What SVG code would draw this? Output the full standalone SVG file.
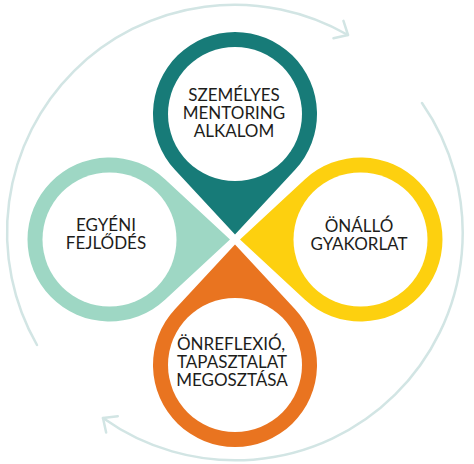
<svg xmlns="http://www.w3.org/2000/svg" width="474" height="464" viewBox="0 0 474 464">
<style>
.cyc{fill:none;stroke:#d2e5e4;stroke-width:2.5;stroke-linecap:round}
.hole{fill:#ffffff}
.lbl{font-family:Lato,"Open Sans","Liberation Sans",sans-serif;font-size:17px;fill:#1d1d1b;text-anchor:middle}
</style>
<defs>
<marker id="chev" markerUnits="userSpaceOnUse" viewBox="-14 -12 16 24" markerWidth="16" markerHeight="24" refX="0" refY="0" orient="auto" overflow="visible">
<path d="M -11 -10 L 0 0 L -11 10" fill="none" stroke="#d2e5e4" stroke-width="2.5" stroke-linecap="round" stroke-linejoin="round"/>
</marker>
</defs>
<rect width="474" height="464" fill="#ffffff"/>
<g id="connectors">
<path class="cyc" d="M 37 345 A 227.5 227.5 0 0 1 348 35" marker-end="url(#chev)"/>
<path class="cyc" d="M 422 103 A 227.5 227.5 0 0 1 103 418" marker-end="url(#chev)"/>
</g>
<g id="node-top">
<path d="M 235 234.5 L 295.08 169.8 A 82 82 0 1 0 174.92 169.8 Z" fill="#177b78"/>
<circle class="hole" cx="235" cy="114" r="67"/>
<text class="lbl" x="234" y="101">SZEMÉLYES</text>
<text class="lbl" x="234" y="119">MENTORING</text>
<text class="lbl" x="234" y="137">ALKALOM</text>
</g>
<g id="node-right">
<path d="M 240 239.5 L 304.7 299.58 A 82 82 0 1 0 304.7 179.42 Z" fill="#fdd00f"/>
<circle class="hole" cx="360.5" cy="239.5" r="67"/>
<text class="lbl" x="359" y="232">ÖNÁLLÓ</text>
<text class="lbl" x="359" y="250">GYAKORLAT</text>
</g>
<g id="node-bottom">
<path d="M 235 244.5 L 174.92 309.2 A 82 82 0 1 0 295.08 309.2 Z" fill="#e97420"/>
<circle class="hole" cx="235" cy="365" r="67"/>
<text class="lbl" x="231" y="350">ÖNREFLEXIÓ,</text>
<text class="lbl" x="232" y="368">TAPASZTALAT</text>
<text class="lbl" x="232" y="386">MEGOSZTÁSA</text>
</g>
<g id="node-left">
<path d="M 230 239.5 L 165.3 179.42 A 82 82 0 1 0 165.3 299.58 Z" fill="#9ed7c4"/>
<circle class="hole" cx="109.5" cy="239.5" r="67"/>
<text class="lbl" x="106" y="231">EGYÉNI</text>
<text class="lbl" x="106" y="249">FEJLŐDÉS</text>
</g>
</svg>
